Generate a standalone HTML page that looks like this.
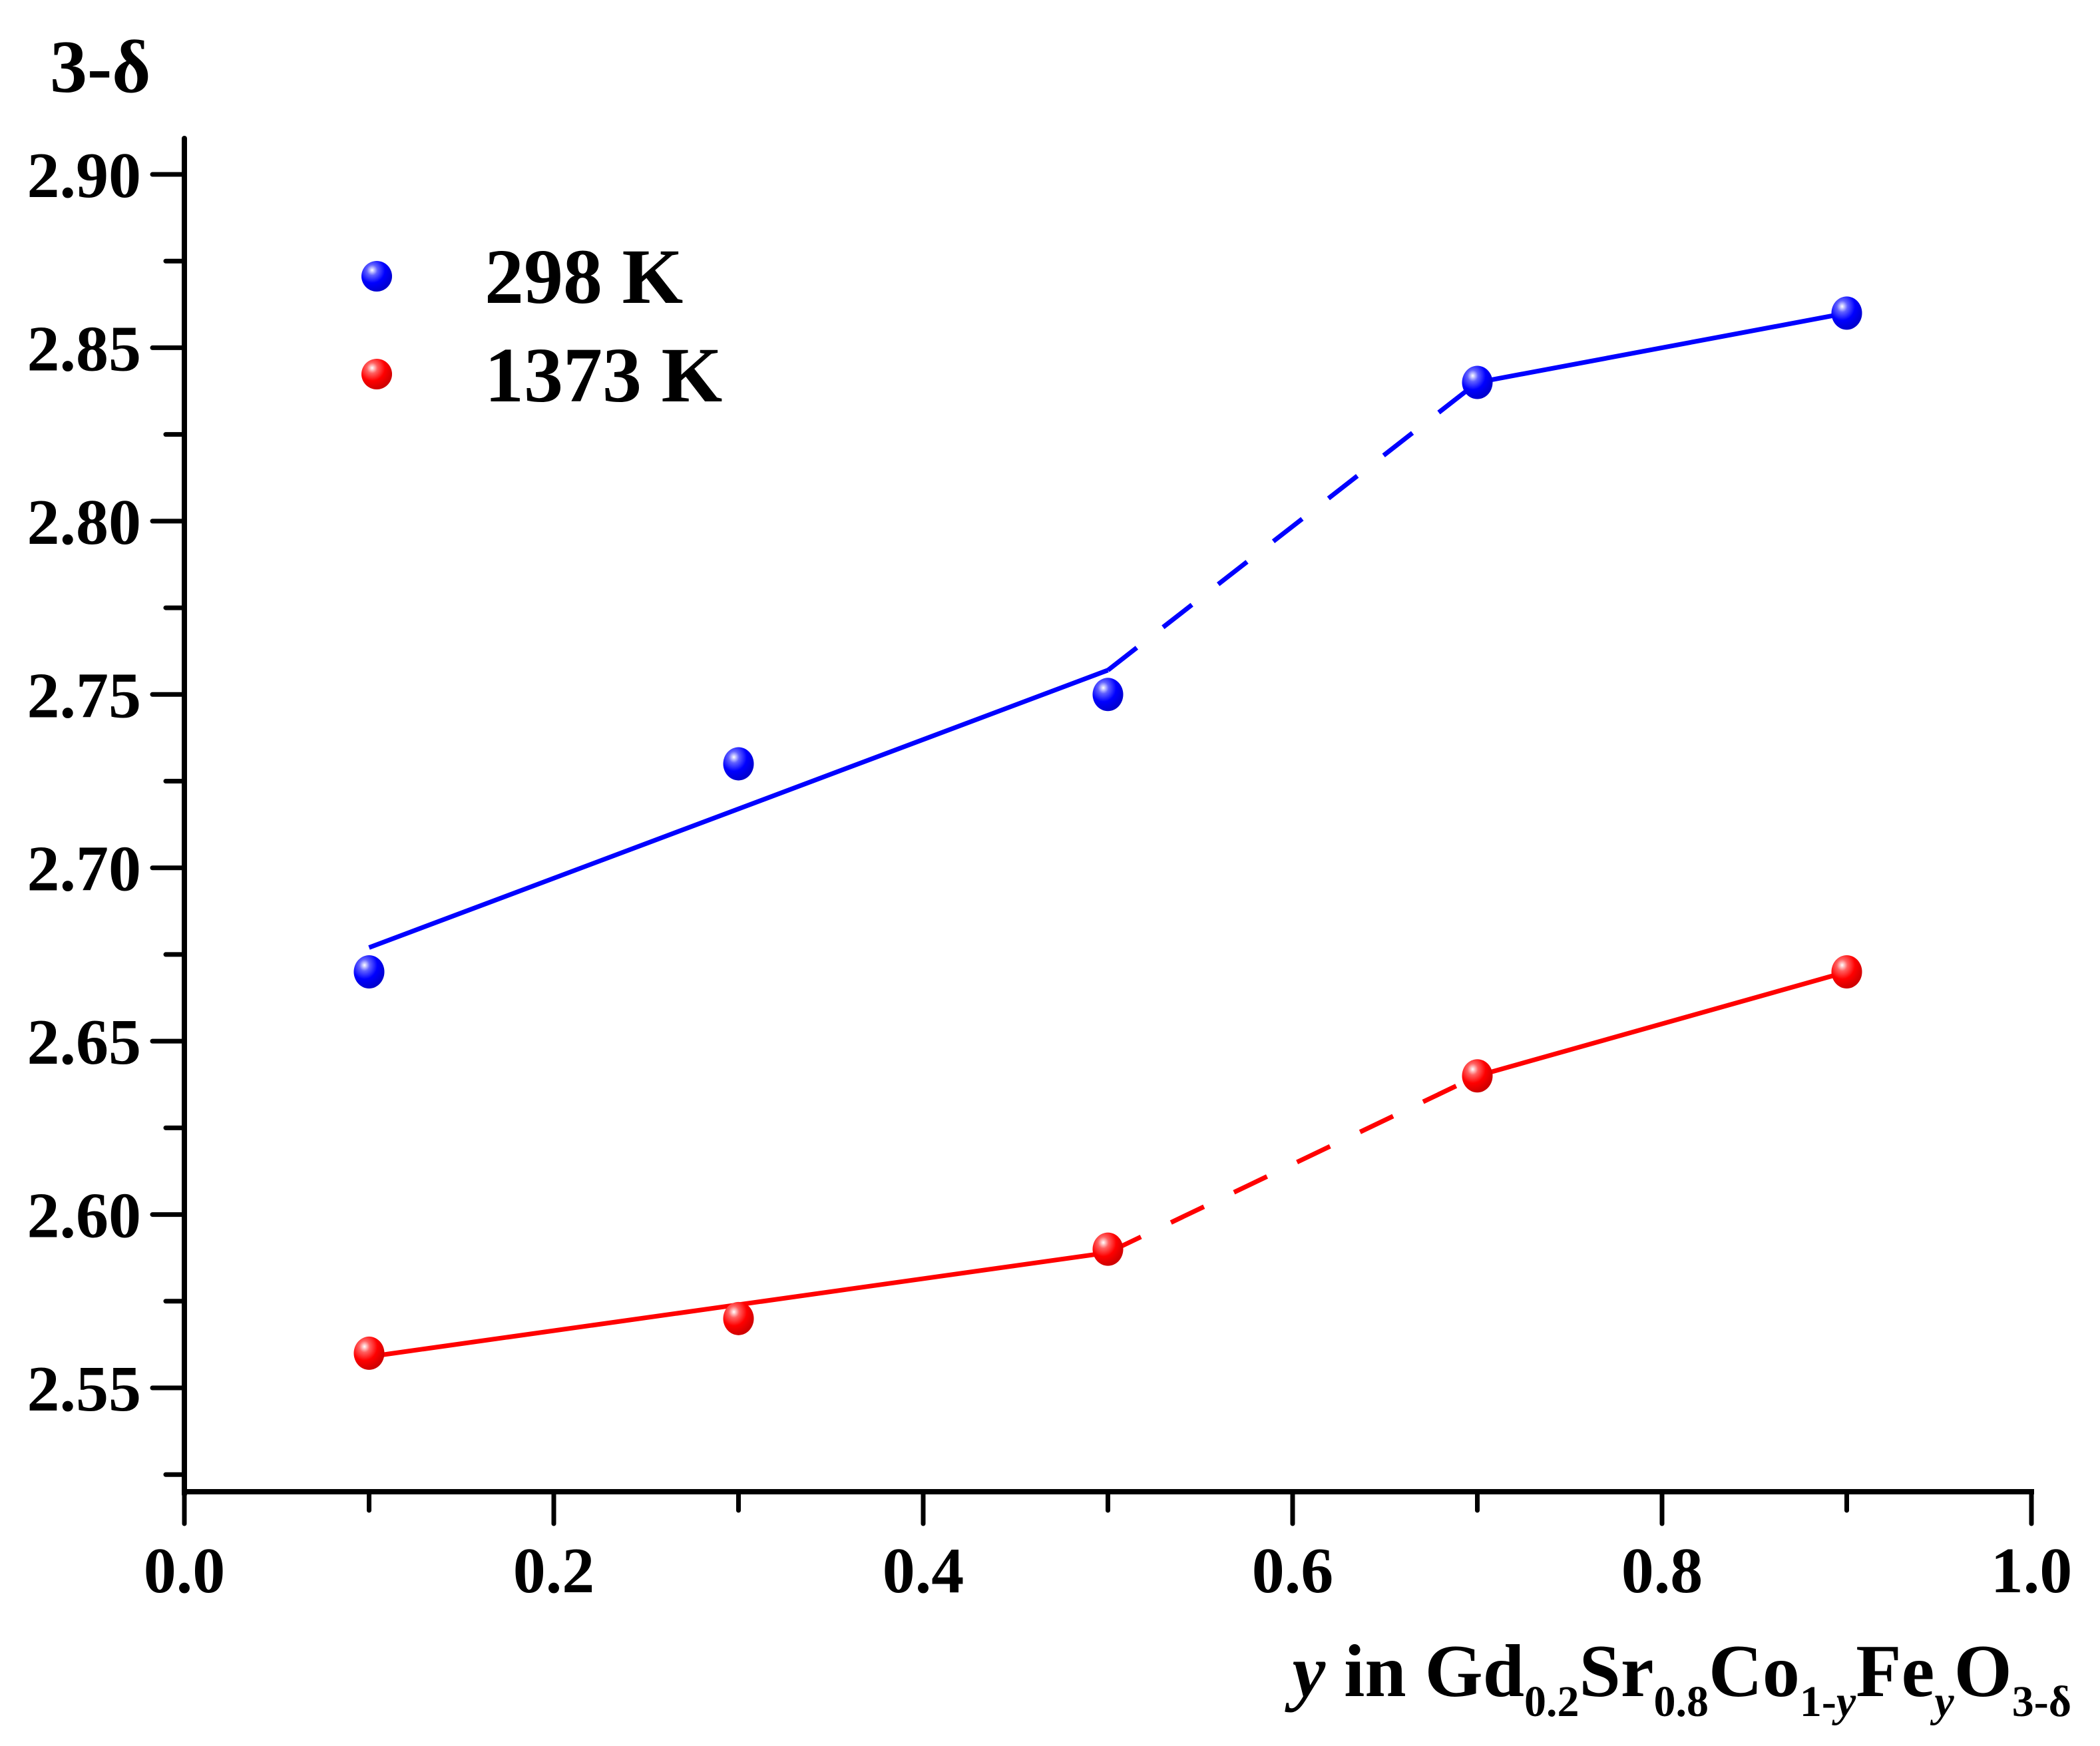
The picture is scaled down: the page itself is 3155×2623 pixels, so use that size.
<!DOCTYPE html>
<html><head><meta charset="utf-8"><style>
html,body{margin:0;padding:0;background:#fff;}
svg{display:block;}
text{font-family:"Liberation Serif",serif;font-weight:bold;fill:#000;}
</style></head><body>
<svg id="chart" width="3155" height="2623" viewBox="0 0 3155 2623" xmlns="http://www.w3.org/2000/svg">
<defs>
<radialGradient id="gb" cx="0.35" cy="0.3" r="0.7"><stop offset="0" stop-color="#fff"/><stop offset="0.25" stop-color="#6060ff"/><stop offset="0.6" stop-color="#0000ff"/><stop offset="1" stop-color="#0000d0"/></radialGradient>
<radialGradient id="gr" cx="0.35" cy="0.3" r="0.7"><stop offset="0" stop-color="#fff"/><stop offset="0.25" stop-color="#ff6060"/><stop offset="0.6" stop-color="#ff0000"/><stop offset="1" stop-color="#d00000"/></radialGradient>
</defs>
<g id="plot"></g>
<text x="75" y="138" font-size="112">3-δ</text>
<text x="3112" y="2548" font-size="112" text-anchor="end"><tspan font-style="italic">y</tspan> in Gd<tspan font-size="66" dy="30">0.2</tspan><tspan dy="-30">Sr</tspan><tspan font-size="66" dy="30">0.8</tspan><tspan dy="-30">Co</tspan><tspan font-size="66" dy="30">1-<tspan font-style="italic">y</tspan></tspan><tspan dy="-30">Fe</tspan><tspan font-size="66" dy="30" font-style="italic">y</tspan><tspan dy="-30">O</tspan><tspan font-size="66" dy="30">3-δ</tspan></text>
<circle cx="566" cy="415" r="23" fill="url(#gb)"/>
<text x="728" y="455" font-size="118">298 K</text>
<circle cx="566" cy="562" r="23" fill="url(#gr)"/>
<text x="728" y="603" font-size="118">1373 K</text>
</svg>
<script>
const xVals = [0.1, 0.3, 0.5, 0.7, 0.9];
const blueVals = [2.67, 2.73, 2.75, 2.84, 2.86];
const redVals = [2.56, 2.57, 2.59, 2.64, 2.67];
const blueFitStart = [0.1, 2.677];
const blueFitBreak = [0.5, 2.757];
const redFitStart = [0.1, 2.559];
const redFitBreak = [0.5, 2.589];
const xTicks = [0.0, 0.2, 0.4, 0.6, 0.8, 1.0];
const xTickLabels = ["0.0","0.2","0.4","0.6","0.8","1.0"];
const yTicks = [2.55, 2.60, 2.65, 2.70, 2.75, 2.80, 2.85, 2.90];
const yTickLabels = ["2.55","2.60","2.65","2.70","2.75","2.80","2.85","2.90"];

const X0=277, X1=3052, Y290=262, Y255=2085, YBOT=2241, YTOP=208;
function sx(v){return X0+(X1-X0)*v;}
function sy(v){return Y290+(2.90-v)/(0.35)*(Y255-Y290);}
const NS='http://www.w3.org/2000/svg';
const g=document.getElementById('plot');
function mk(tag,attrs){const e=document.createElementNS(NS,tag);for(const k in attrs)e.setAttribute(k,attrs[k]);g.appendChild(e);return e;}

let e;
e=mk('line',{x1:X0,y1:YTOP,x2:X0,y2:YBOT+4,stroke:'#000','stroke-width':8,'stroke-linecap':'round'});


e=mk('line',{x1:X0-4,y1:YBOT,x2:X1+4,y2:YBOT,stroke:'#000','stroke-width':8});



xTicks.forEach((t,i)=>{
  e=mk('line',{x1:sx(t),y1:YBOT,x2:sx(t),y2:YBOT+48,stroke:'#000','stroke-width':7,'stroke-linecap':'round'});
  
  
  if(i<xTicks.length-1){
    e=mk('line',{x1:sx(t+0.1),y1:YBOT,x2:sx(t+0.1),y2:YBOT+28,stroke:'#000','stroke-width':7,'stroke-linecap':'round'});
    
    
  }
  e=mk('text',{x:sx(t),y:2392,'font-size':98,'text-anchor':'middle'});
  e.textContent=xTickLabels[i];
  
  
});
yTicks.forEach((t,i)=>{
  e=mk('line',{x1:X0,y1:sy(t),x2:X0-48,y2:sy(t),stroke:'#000','stroke-width':7,'stroke-linecap':'round'});
  
  
  e=mk('line',{x1:X0,y1:sy(t-0.025),x2:X0-28,y2:sy(t-0.025),stroke:'#000','stroke-width':7,'stroke-linecap':'round'});
  
  
  e=mk('text',{x:212,y:sy(t)+34,'font-size':98,'text-anchor':'end'});
  e.textContent=yTickLabels[i];
  
  
});

function series(vals,start,brk,color,grad,name){
  e=mk('line',{x1:sx(start[0]),y1:sy(start[1]),x2:sx(brk[0]),y2:sy(brk[1]),stroke:color,'stroke-width':7});
  
  
  e=mk('line',{x1:sx(brk[0]),y1:sy(brk[1]),x2:sx(xVals[3]),y2:sy(vals[3]),stroke:color,'stroke-width':7,'stroke-dasharray':'55 50'});
  
  
  e=mk('line',{x1:sx(xVals[3]),y1:sy(vals[3]),x2:sx(xVals[4]),y2:sy(vals[4]),stroke:color,'stroke-width':7});
  
  
  vals.forEach((v,i)=>{
    e=mk('ellipse',{cx:sx(xVals[i]),cy:sy(v),rx:23,ry:25,fill:grad});
    
    
  });
}
series(blueVals,blueFitStart,blueFitBreak,'#0000ff','url(#gb)','series-298k');
series(redVals,redFitStart,redFitBreak,'#ff0000','url(#gr)','series-1373k');
</script>
</body></html>
